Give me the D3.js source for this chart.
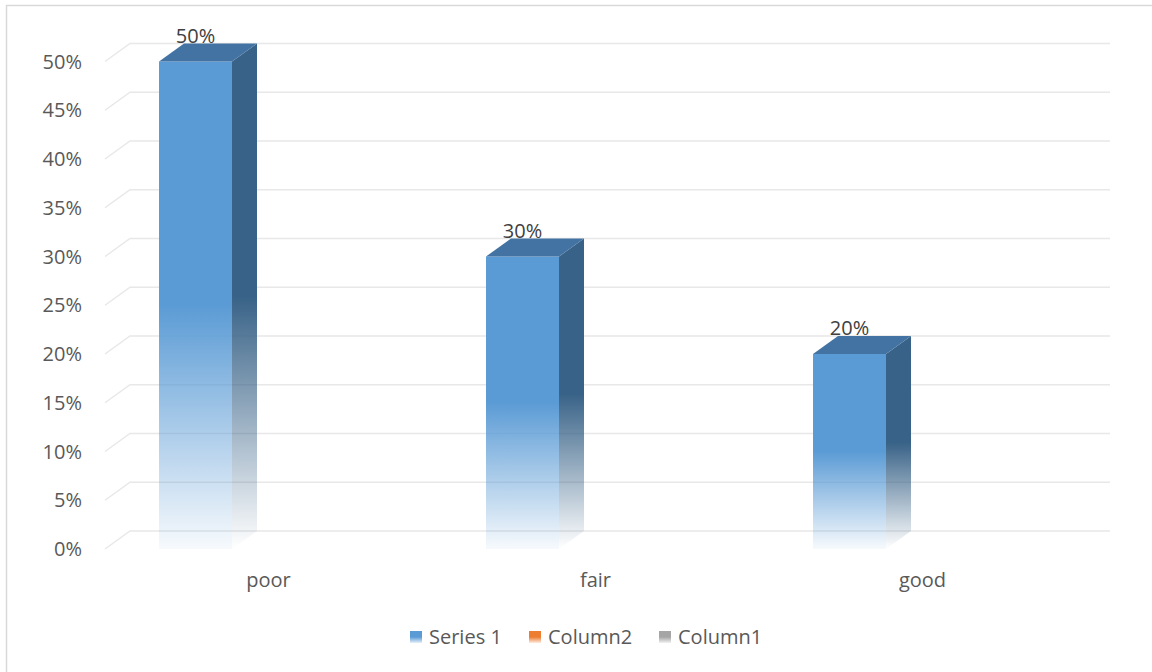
<!DOCTYPE html>
<html lang="en">
	<head>
		<meta charset="utf-8">
		<title>Rating - 3D columns</title>
		<script src="https://d3js.org/d3.v7.min.js"></script>
		<style type="text/css">
body {
    margin: 0;
    background: #fff;
}
text {
    font-family: "Open Sans", "Noto Sans", sans-serif;
}
		</style>
	</head>

	<body>
		<script type="text/javascript">

			// data
			var categories = ["poor", "fair", "good"];
			var seriesNames = ["Series 1", "Column2", "Column1"];
			var series1 = [0.50, 0.30, 0.20];
			var yTicks = [0, 0.05, 0.10, 0.15, 0.20, 0.25, 0.30, 0.35, 0.40, 0.45, 0.50];
			var seriesColors = ["#5b9bd5", "#ed7d31", "#a5a5a5"];

			//Width and height
			var w = 1152;
			var h = 672;

			// depth of the 3d walls
			var dx = 25;
			var dy = -18;

			var svg = d3.select("body")
						.append("svg")
						.attr("width", w)
						.attr("height", h);

			var defs = svg.append("defs");

			// fading gradient, solid on top half then fades out
			function fadeGrad(id, color, endOpacity) {
				var g = defs.append("linearGradient")
					.attr("id", id)
					.attr("x1", 0).attr("y1", 0)
					.attr("x2", 0).attr("y2", 1);
				g.append("stop").attr("offset", "0%").attr("stop-color", color).attr("stop-opacity", 1);
				g.append("stop").attr("offset", "50%").attr("stop-color", color).attr("stop-opacity", 1);
				g.append("stop").attr("offset", "100%").attr("stop-color", color).attr("stop-opacity", endOpacity);
			}
			fadeGrad("frontGrad", "#5b9bd5", 0.05);
			fadeGrad("sideGrad", "#386287", 0.0);
			seriesColors.forEach(function(c, i) {
				fadeGrad("legGrad" + i, c, 0.15);
			});

			// chart border
			svg.append("rect")
				.attr("x", 6.5)
				.attr("y", 5.5)
				.attr("width", 1200)
				.attr("height", 700)
				.style("fill", "none")
				.style("stroke", "#d9d9d9")
				.style("stroke-width", 1.5);

			// scales (front plane)
			var y = d3.scaleLinear()
				.domain([0, 0.5])
				.range([549, 61.5]);

			var x = d3.scaleBand()
				.domain(categories)
				.range([105, 1086])
				.paddingInner(0)
				.paddingOuter(0);

			var xSeries = d3.scaleBand()
				.domain(seriesNames)
				.range([0, x.bandwidth()])
				.paddingInner(0)
				.paddingOuter(0.74);

			// gridlines on the back wall + floor diagonal
			var grid = svg.append("g").attr("class", "grid");
			grid.selectAll(".gline")
				.data(yTicks)
				.enter()
				.append("polyline")
				.attr("points", function(d) {
					var yy = y(d);
					return [105, yy, 105 + dx, yy + dy, 1110, yy + dy].join(",");
				})
				.style("fill", "none")
				.style("stroke", "#e8e8e8")
				.style("stroke-width", 1.5);

			// y axis labels
			svg.append("g")
				.selectAll("text")
				.data(yTicks)
				.enter()
				.append("text")
				.attr("x", 82)
				.attr("y", function(d) { return y(d); })
				.attr("dy", "0.35em")
				.style("text-anchor", "end")
				.style("font-size", "20px")
				.style("fill", "#595959")
				.text(d3.format(".0%"));

			// category labels
			svg.append("g")
				.selectAll("text")
				.data(categories)
				.enter()
				.append("text")
				.attr("x", function(d) { return x(d) + x.bandwidth() / 2; })
				.attr("y", 580)
				.attr("dy", "0.35em")
				.style("text-anchor", "middle")
				.style("font-size", "20px")
				.style("fill", "#595959")
				.text(function(d) { return d; });

			// bars
			var bars = svg.append("g")
				.selectAll(".bar")
				.data(series1)
				.enter()
				.append("g")
				.attr("class", "bar");

			function bx0(d, i) { return x(categories[i]) + xSeries("Series 1"); }
			function bx1(d, i) { return bx0(d, i) + xSeries.bandwidth(); }

			// front face
			bars.append("rect")
				.attr("x", bx0)
				.attr("y", function(d) { return y(d); })
				.attr("width", xSeries.bandwidth())
				.attr("height", function(d) { return y(0) - y(d); })
				.style("fill", "url(#frontGrad)");

			// side face
			bars.append("polygon")
				.attr("points", function(d, i) {
					var x1 = bx1(d, i), t = y(d), b = y(0);
					return [x1, t, x1 + dx, t + dy, x1 + dx, b + dy, x1, b].join(",");
				})
				.style("fill", "url(#sideGrad)");

			// top face
			bars.append("polygon")
				.attr("points", function(d, i) {
					var x0 = bx0(d, i), x1 = bx1(d, i), t = y(d);
					return [x0, t, x0 + dx, t + dy, x1 + dx, t + dy, x1, t].join(",");
				})
				.style("fill", "#4273a2");

			// data labels
			bars.append("text")
				.attr("x", function(d, i) { return bx0(d, i) + xSeries.bandwidth() / 2; })
				.attr("y", function(d) { return y(d) + dy; })
				.attr("dy", "-0.05em")
				.style("text-anchor", "middle")
				.style("font-size", "20px")
				.style("fill", "#404040")
				.text(d3.format(".0%"));

			// legend
			var legX = [410, 529, 659];
			var legend = svg.append("g")
				.selectAll(".legend")
				.data(seriesNames)
				.enter()
				.append("g")
				.attr("class", "legend")
				.attr("transform", function(d, i) { return "translate(" + legX[i] + ",637)"; });

			legend.append("rect")
				.attr("x", 0)
				.attr("y", -6)
				.attr("width", 12)
				.attr("height", 12)
				.style("fill", function(d, i) { return "url(#legGrad" + i + ")"; });

			legend.append("text")
				.attr("x", 19)
				.attr("y", 0)
				.attr("dy", "0.35em")
				.style("font-size", "20px")
				.style("fill", "#595959")
				.text(function(d) { return d; });

		</script>
	</body>
</html>
